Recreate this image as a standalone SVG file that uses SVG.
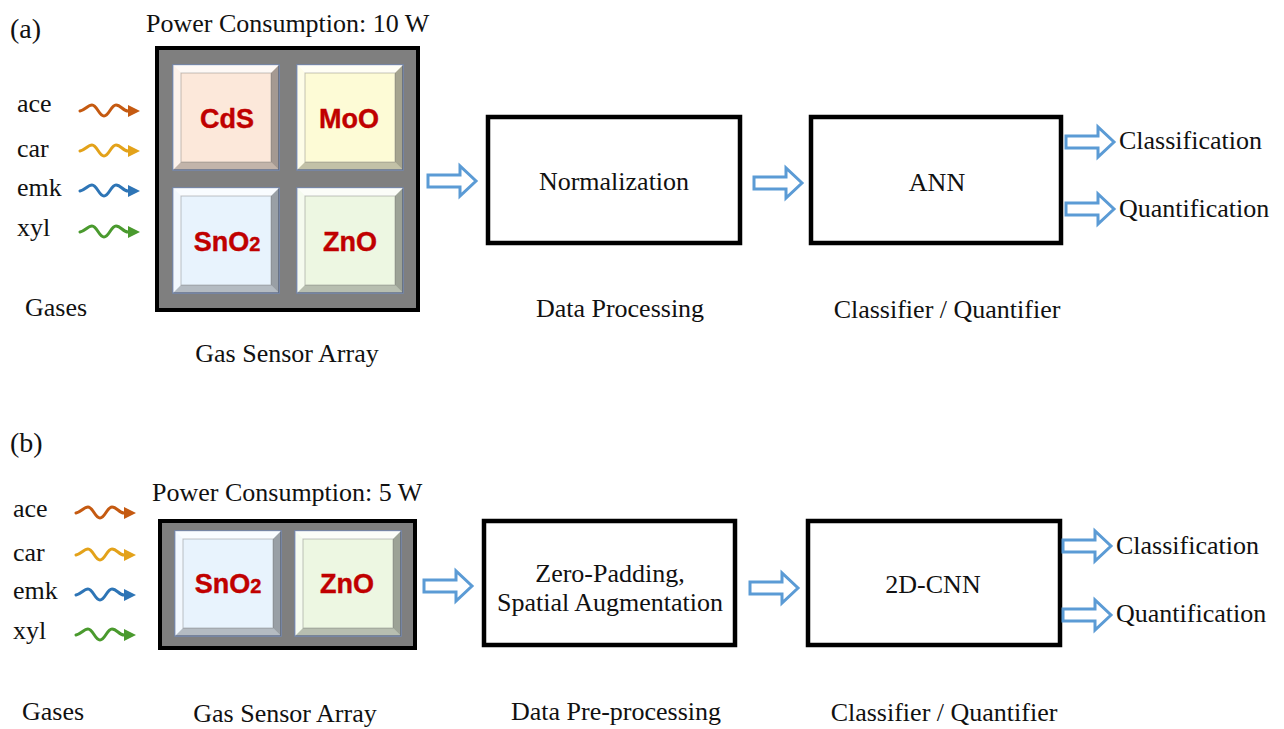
<svg xmlns="http://www.w3.org/2000/svg" xmlns:xlink="http://www.w3.org/1999/xlink" width="1284" height="729" viewBox="0 0 1284 729">
<style>
.t{font-family:"Liberation Serif","Times New Roman",serif;font-size:26px;fill:#111}
.lab{font-family:"Liberation Serif","Times New Roman",serif;font-size:28px;fill:#111}
.m{text-anchor:middle}
.chem{font-family:"Liberation Sans",Arial,sans-serif;font-weight:bold;font-size:27px;fill:#c00000;text-anchor:middle;stroke:#c00000;stroke-width:0.4}
.box{fill:#fff;stroke:#000;stroke-width:4.5}
.arr{fill:#fff;stroke:#5b9bd5;stroke-width:3;stroke-linejoin:miter}
.array{fill:#7f7f7f;stroke:#000;stroke-width:4}
.tileo{stroke:#7488b0;stroke-width:1.5}
.hl{fill:#fff;opacity:0.75}
.hl2{fill:#fff;opacity:0.45}
.sh{fill:#3a3a3a;opacity:0.45}
.sh2{fill:#3a3a3a;opacity:0.3}
.wave{fill:none;stroke-width:3;stroke-linecap:round}
</style>
<defs>
<path id="hollow" d="M0,-6 L32,-6 L32,-15 L48,0 L32,15 L32,6 L0,6 Z"/>
<g id="bevel">
<polygon class="hl" points="0,0 106,0 98,8 8,8"/>
<polygon class="hl2" points="0,0 8,8 8,97 0,105"/>
<polygon class="sh" points="106,0 106,105 98,97 98,8"/>
<polygon class="sh2" points="0,105 106,105 98,97 8,97"/>
<rect x="8" y="8" width="90" height="89" fill="none" stroke="#555" stroke-opacity="0.35" stroke-width="1"/>
</g>
<g id="wv">
<path d="M0,0 C5,-1 8,-6 12,-6 C17,-6 19,5 24,5 C29,5 31,-6 36,-6 C41,-6 43,0 48,0"/>
</g>
</defs>

<!-- Panel labels -->
<text class="lab" x="10" y="38">(a)</text>
<text class="lab" x="10" y="452">(b)</text>

<!-- (a) Gases -->
<g id="gases-a">
<text class="t" x="17" y="112">ace</text>
<text class="t" x="17" y="157">car</text>
<text class="t" x="17" y="196">emk</text>
<text class="t" x="17" y="236">xyl</text>
<text class="t" x="25" y="316">Gases</text>
<g transform="translate(80,111)" stroke="#c55a11"><use xlink:href="#wv" class="wave"/><polygon points="48,-6 60,0 48,6" fill="#c55a11" stroke="none"/></g>
<g transform="translate(80,151)" stroke="#e3a21a"><use xlink:href="#wv" class="wave"/><polygon points="48,-6 60,0 48,6" fill="#e3a21a" stroke="none"/></g>
<g transform="translate(80,191)" stroke="#2e75b6"><use xlink:href="#wv" class="wave"/><polygon points="48,-6 60,0 48,6" fill="#2e75b6" stroke="none"/></g>
<g transform="translate(80,232)" stroke="#4a9a2e"><use xlink:href="#wv" class="wave"/><polygon points="48,-6 60,0 48,6" fill="#4a9a2e" stroke="none"/></g>
</g>

<!-- (a) Sensor array -->
<g id="array-a">
<text class="t" x="146" y="32">Power Consumption: 10 W</text>
<rect class="array" x="157" y="48" width="261" height="262"/>
<g transform="translate(173,65)">
<rect class="tileo" x="0" y="0" width="106" height="105" fill="#fce8da"/>
<use xlink:href="#bevel"/>
</g>
<g transform="translate(297,65)">
<rect class="tileo" x="0" y="0" width="106" height="105" fill="#fdfbd6"/>
<use xlink:href="#bevel"/>
</g>
<g transform="translate(173,188)">
<rect class="tileo" x="0" y="0" width="106" height="105" fill="#e8f3fd"/>
<use xlink:href="#bevel"/>
</g>
<g transform="translate(297,188)">
<rect class="tileo" x="0" y="0" width="106" height="105" fill="#edf7e2"/>
<use xlink:href="#bevel"/>
</g>
<text class="chem" x="227" y="128">CdS</text>
<text class="chem" x="349" y="128">MoO</text>
<text class="chem" x="227" y="251">SnO<tspan font-size="20">2</tspan></text>
<text class="chem" x="350" y="251">ZnO</text>
<text class="t m" x="287" y="362">Gas Sensor Array</text>
</g>

<!-- (a) Processing -->
<g id="norm-a">
<rect class="box" x="488" y="117" width="252" height="126"/>
<text class="t m" x="614" y="190">Normalization</text>
<text class="t m" x="620" y="317">Data Processing</text>
</g>
<g id="ann-a">
<rect class="box" x="811" y="117" width="250" height="126"/>
<text class="t m" x="937" y="191">ANN</text>
<text class="t m" x="947" y="318">Classifier / Quantifier</text>
</g>
<g id="out-a">
<text class="t" x="1119" y="149">Classification</text>
<text class="t" x="1119" y="217">Quantification</text>
</g>

<!-- (b) Gases -->
<g id="gases-b">
<text class="t" x="13" y="517">ace</text>
<text class="t" x="13" y="561">car</text>
<text class="t" x="13" y="599">emk</text>
<text class="t" x="13" y="639">xyl</text>
<text class="t" x="22" y="720">Gases</text>
<g transform="translate(76,513)" stroke="#c55a11"><use xlink:href="#wv" class="wave"/><polygon points="48,-6 60,0 48,6" fill="#c55a11" stroke="none"/></g>
<g transform="translate(76,555)" stroke="#e3a21a"><use xlink:href="#wv" class="wave"/><polygon points="48,-6 60,0 48,6" fill="#e3a21a" stroke="none"/></g>
<g transform="translate(76,595)" stroke="#2e75b6"><use xlink:href="#wv" class="wave"/><polygon points="48,-6 60,0 48,6" fill="#2e75b6" stroke="none"/></g>
<g transform="translate(76,635)" stroke="#4a9a2e"><use xlink:href="#wv" class="wave"/><polygon points="48,-6 60,0 48,6" fill="#4a9a2e" stroke="none"/></g>
</g>

<!-- (b) Sensor array -->
<g id="array-b">
<text class="t" x="152" y="501">Power Consumption: 5 W</text>
<rect class="array" x="160" y="521" width="255" height="127"/>
<g transform="translate(175,531)">
<rect class="tileo" x="0" y="0" width="106" height="105" fill="#e8f3fd"/>
<use xlink:href="#bevel"/>
</g>
<g transform="translate(295,531)">
<rect class="tileo" x="0" y="0" width="106" height="105" fill="#edf7e2"/>
<use xlink:href="#bevel"/>
</g>
<text class="chem" x="228" y="593">SnO<tspan font-size="20">2</tspan></text>
<text class="chem" x="347" y="593">ZnO</text>
<text class="t m" x="285" y="722">Gas Sensor Array</text>
</g>

<!-- (b) Processing -->
<g id="pre-b">
<rect class="box" x="484" y="521" width="251" height="124"/>
<text class="t m" x="610" y="582">Zero-Padding,</text>
<text class="t m" x="610" y="611">Spatial Augmentation</text>
<text class="t m" x="616" y="720">Data Pre-processing</text>
</g>
<g id="cnn-b">
<rect class="box" x="808" y="521" width="252" height="124"/>
<text class="t m" x="933" y="593">2D-CNN</text>
<text class="t m" x="944" y="721">Classifier / Quantifier</text>
</g>
<g id="out-b">
<text class="t" x="1116" y="554">Classification</text>
<text class="t" x="1116" y="622">Quantification</text>
</g>

<!-- Connectors -->
<g id="connectors">
<use xlink:href="#hollow" class="arr" transform="translate(428,181)"/>
<use xlink:href="#hollow" class="arr" transform="translate(754,183)"/>
<use xlink:href="#hollow" class="arr" transform="translate(1066,142)"/>
<use xlink:href="#hollow" class="arr" transform="translate(1066,209)"/>
<use xlink:href="#hollow" class="arr" transform="translate(424,586)"/>
<use xlink:href="#hollow" class="arr" transform="translate(750,588)"/>
<use xlink:href="#hollow" class="arr" transform="translate(1063,546)"/>
<use xlink:href="#hollow" class="arr" transform="translate(1063,615)"/>
</g>
</svg>
